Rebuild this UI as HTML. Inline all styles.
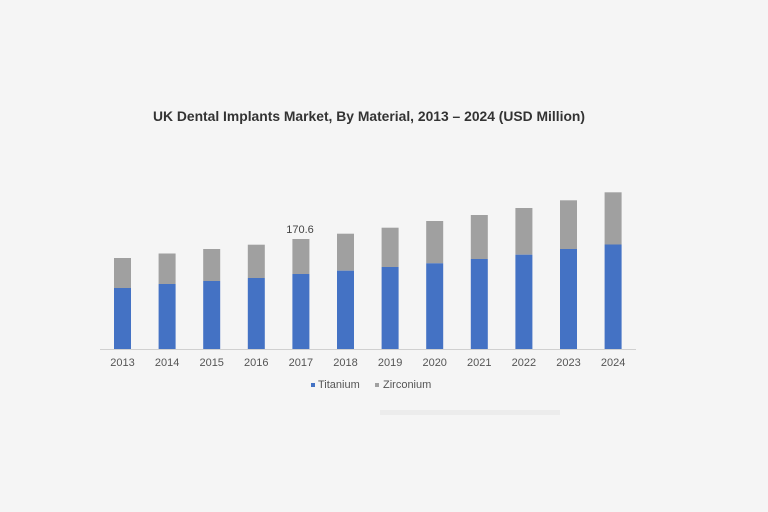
<!DOCTYPE html>
<html><head><meta charset="utf-8"><style>
html,body{margin:0;padding:0;background:#f5f5f5;}
svg{display:block;}
text{font-family:"Liberation Sans",sans-serif;}
</style></head><body>
<svg width="768" height="512" viewBox="0 0 768 512" xmlns="http://www.w3.org/2000/svg">
<rect width="768" height="512" fill="#f5f5f5"/>
<text x="369" y="121" text-anchor="middle" font-size="14" font-weight="bold" fill="#333" textLength="432" lengthAdjust="spacingAndGlyphs">UK Dental Implants Market, By Material, 2013 – 2024 (USD Million)</text>
<g id="bars"></g>
<line x1="100" y1="349.5" x2="636" y2="349.5" stroke="#d0d0d0" stroke-width="1"/>
<text x="300" y="233" text-anchor="middle" font-size="11" fill="#444">170.6</text>
<g font-size="11" fill="#555" text-anchor="middle">
<text x="122.5" y="366">2013</text><text x="167.1" y="366">2014</text><text x="211.7" y="366">2015</text><text x="256.3" y="366">2016</text><text x="300.9" y="366">2017</text><text x="345.5" y="366">2018</text><text x="390.1" y="366">2019</text><text x="434.7" y="366">2020</text><text x="479.3" y="366">2021</text><text x="523.9" y="366">2022</text><text x="568.5" y="366">2023</text><text x="613.1" y="366">2024</text>
</g>
<rect x="311" y="383" width="4" height="4" fill="#4472c4"/>
<text x="318" y="388" font-size="11" fill="#555">Titanium</text>
<rect x="375" y="383" width="4" height="4" fill="#a0a0a0"/>
<text x="383" y="388" font-size="11" fill="#555">Zirconium</text>
<rect x="380" y="410" width="180" height="5" fill="#ececec"/>
<g>
<rect x="114" y="258" width="17" height="30" fill="#a0a0a0"/><rect x="114" y="288" width="17" height="61" fill="#4472c4"/>
<rect x="158.6" y="253.5" width="17" height="30.5" fill="#a0a0a0"/><rect x="158.6" y="284" width="17" height="65" fill="#4472c4"/>
<rect x="203.2" y="249" width="17" height="32" fill="#a0a0a0"/><rect x="203.2" y="281" width="17" height="68" fill="#4472c4"/>
<rect x="247.8" y="244.7" width="17" height="33.3" fill="#a0a0a0"/><rect x="247.8" y="278" width="17" height="71" fill="#4472c4"/>
<rect x="292.4" y="239" width="17" height="35" fill="#a0a0a0"/><rect x="292.4" y="274" width="17" height="75" fill="#4472c4"/>
<rect x="337" y="233.7" width="17" height="37" fill="#a0a0a0"/><rect x="337" y="270.7" width="17" height="78.3" fill="#4472c4"/>
<rect x="381.6" y="227.7" width="17" height="39.3" fill="#a0a0a0"/><rect x="381.6" y="267" width="17" height="82" fill="#4472c4"/>
<rect x="426.2" y="221" width="17" height="42.3" fill="#a0a0a0"/><rect x="426.2" y="263.3" width="17" height="85.7" fill="#4472c4"/>
<rect x="470.8" y="215" width="17" height="44" fill="#a0a0a0"/><rect x="470.8" y="259" width="17" height="90" fill="#4472c4"/>
<rect x="515.4" y="208" width="17" height="46.7" fill="#a0a0a0"/><rect x="515.4" y="254.7" width="17" height="94.3" fill="#4472c4"/>
<rect x="560" y="200.3" width="17" height="48.7" fill="#a0a0a0"/><rect x="560" y="249" width="17" height="100" fill="#4472c4"/>
<rect x="604.6" y="192.3" width="17" height="52.2" fill="#a0a0a0"/><rect x="604.6" y="244.5" width="17" height="104.5" fill="#4472c4"/>
</g>
</svg>
</body></html>
